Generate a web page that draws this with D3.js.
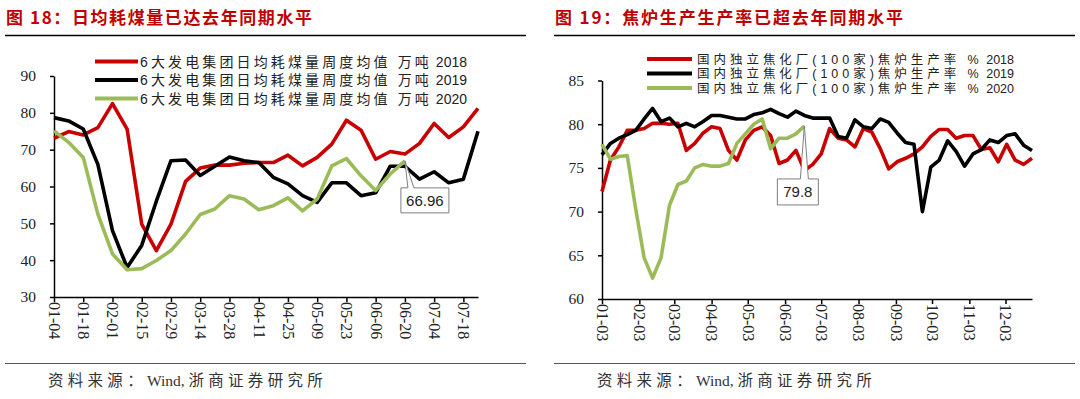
<!DOCTYPE html>
<html>
<head>
<meta charset="utf-8">
<script src="https://cdn.jsdelivr.net/npm/d3@7"></script>
<style>
  html, body { margin: 0; padding: 0; background: #fff; }
  svg { display: block; }
</style>
</head>
<body>
<div id="chart"></div>
<script>
// ---- data ----
const coalDates = ["01-04","01-11","01-18","01-25","02-01","02-08","02-15","02-22","02-29","03-07",
  "03-14","03-21","03-28","04-04","04-11","04-18","04-25","05-02","05-09","05-16",
  "05-23","05-30","06-06","06-13","06-20","06-27","07-04","07-11","07-18","07-25"];
const coalTicks = ["01-04","01-18","02-01","02-15","02-29","03-14","03-28","04-11","04-25",
  "05-09","05-23","06-06","06-20","07-04","07-18"];
const coalYTicks = [30, 40, 50, 60, 70, 80, 90];
const coal2018 = [73.1, 74.9, 74, 76, 82.5, 75.6, 49.8, 42.6, 49.8, 61.4, 65, 65.8, 65.8, 66.3, 66.5,
  66.5, 68.5, 65.6, 67.9, 71.5, 78, 75.3, 67.4, 69.5, 68.8, 71.7, 77.1, 73.3, 76.2, 81.2];
const coal2019 = [78.7, 77.8, 75.6, 66, 48, 38, 44, 56, 67, 67.2, 63, 65.5, 68, 67, 66.5,
  62.5, 60.7, 57.5, 55.7, 61, 61, 57.5, 58.3, 65.5, 65.5, 62, 64, 61, 62, 75];
const coal2020 = [75.1, 72, 67.9, 52.5, 41.7, 37.4, 37.7, 39.9, 42.6, 47.1, 52.4, 53.9, 57.5, 56.6, 53.7,
  54.8, 56.9, 53.4, 56.6, 65.6, 67.6, 62.9, 58.9, 63.4, 66.96];
const coalNames = ["6大发电集团日均耗煤量周度均值 万吨", "6大发电集团日均耗煤量周度均值 万吨",
  "6大发电集团日均耗煤量周度均值 万吨"];
const years = ["2018", "2019", "2020"];

const cokeDates = ["01-03","01-10","01-17","01-24","01-31","02-07","02-14","02-21","02-28","03-06",
  "03-13","03-20","03-27","04-03","04-10","04-17","04-24","05-01","05-08","05-15",
  "05-22","05-29","06-05","06-12","06-19","06-26","07-03","07-10","07-17","07-24",
  "07-31","08-07","08-14","08-21","08-28","09-04","09-11","09-18","09-25","10-02",
  "10-09","10-16","10-23","10-30","11-06","11-13","11-20","11-27","12-04","12-11",
  "12-18","12-25"];
const cokeTicks = ["01-03","02-03","03-03","04-03","05-03","06-03","07-03","08-03","09-03",
  "10-03","11-03","12-03"];
const cokeYTicks = [60, 65, 70, 75, 80, 85];
const coke2018 = [72.3, 75.9, 77.4, 79.3, 79.3, 79.5, 80.1, 80.1, 80, 80.1, 77, 77.8, 79, 79.7, 79.5,
  77, 75.9, 78.2, 79.3, 79.7, 78.7, 75.5, 75.9, 77, 74.7, 75.4, 76.6, 79.5, 78.4, 78.2,
  77.4, 79.5, 79.1, 77.2, 74.9, 75.7, 76.1, 76.6, 77.4, 78.6, 79.4, 79.4, 78.4, 78.7, 78.7,
  77.1, 77.3, 75.7, 77.7, 75.9, 75.4, 76.1];
const coke2019 = [76.5, 77.8, 78.4, 78.8, 79.3, 80.6, 81.8, 80.3, 80.7, 79.7, 80.1, 79.7, 80.3, 81, 81,
  80.8, 80.6, 80.6, 81.1, 81.3, 81.7, 81.2, 80.8, 81.5, 81, 80.7, 80.7, 80.7, 78.6, 78.4,
  80.5, 79.7, 79.5, 80.6, 80.2, 79, 77.9, 77.7, 70, 75.1, 75.9, 78.1, 76.9, 75.2, 76.6,
  77.1, 78.2, 77.9, 78.7, 78.9, 77.6, 77];
const coke2020 = [77.7, 76, 76.3, 76.4, 70.3, 64.7, 62.4, 64.7, 70.7, 73.1, 73.5, 75, 75.4, 75.2, 75.2,
  75.5, 77.8, 78.9, 80, 80.6, 77.2, 78.4, 78.4, 78.9, 79.8];
const cokeNames = ["国内独立焦化厂(100家)焦炉生产率 %", "国内独立焦化厂(100家)焦炉生产率 %",
  "国内独立焦化厂(100家)焦炉生产率 %"];

const colors = ["#c80000", "#000000", "#9bbb59"];

const SERIF = "'Liberation Serif','Times New Roman','Noto Sans CJK SC',serif";
const CJK = "'Noto Sans CJK SC','Noto Sans',sans-serif";
const SANS = "'Liberation Sans',Arial,'Noto Sans CJK SC',sans-serif";

const parse = d3.timeParse("%Y-%m-%d");
const toDate = s => parse("2020-" + s);

const svg = d3.select("#chart").append("svg")
  .attr("width", 1080)
  .attr("height", 399)
  .attr("viewBox", "0 0 1080 399");

// text made of tspans; the "spaced" parts get extra letter-spacing so the whole fits `target`
function spacedText(sel, parts, target, x, y, size, fill) {
  const t = sel.append("text")
    .attr("x", x).attr("y", y)
    .attr("font-size", size).attr("fill", fill);
  const spans = parts.map(p => t.append("tspan")
    .attr("font-family", p.font || SANS)
    .text(p.text));
  const natural = t.node().getComputedTextLength();
  const n = d3.sum(parts, p => p.spaced ? p.text.length : 0);
  const ls = Math.max(0, (target - natural) / n);
  spans.forEach((s, i) => { if (parts[i].spaced) s.attr("letter-spacing", ls); });
  return t;
}

function drawPanel(cfg) {
  const g = svg.append("g");

  // title + rules
  g.append("text")
    .attr("x", cfg.titleX).attr("y", 24)
    .attr("textLength", cfg.titleLen).attr("lengthAdjust", "spacing")
    .attr("font-family", CJK).attr("font-weight", 700).attr("font-size", 17)
    .attr("fill", "#c00000")
    .text(cfg.title);
  g.append("line").attr("x1", cfg.ruleX0).attr("x2", cfg.ruleX1).attr("y1", 35.5).attr("y2", 35.5)
    .attr("stroke", "#000").attr("stroke-width", 1.3);
  g.append("line").attr("x1", cfg.ruleX0).attr("x2", cfg.ruleX1).attr("y1", 363.5).attr("y2", 363.5)
    .attr("stroke", "#555").attr("stroke-width", 1);
  spacedText(g, [
    { text: "资料来源：", spaced: true, font: CJK },
    { text: "Wind,\u00a0", spaced: false, font: SERIF },
    { text: "浙商证券研究所", spaced: true, font: CJK }
  ], 279, cfg.sourceX, 386, 15.5, "#333");

  const dates = cfg.dates.map(toDate);
  const x = d3.scaleTime().domain([dates[0], dates[dates.length - 1]]).range(cfg.xRange);
  const y = d3.scaleLinear().domain(cfg.yDomain).range(cfg.yRange);

  // axes
  const yAxis = g.append("g")
    .attr("transform", `translate(${cfg.xRange[0]},0)`)
    .call(d3.axisLeft(y).tickValues(cfg.yTicks).tickSize(4).tickPadding(14).tickSizeOuter(0));
  yAxis.selectAll("text").attr("font-family", SERIF).attr("font-size", 15.5).attr("fill", "#222");

  const xAxis = g.append("g")
    .attr("transform", `translate(0,${cfg.yRange[0]})`)
    .call(d3.axisBottom(x).tickValues(cfg.ticks.map(toDate))
      .tickFormat(d3.timeFormat("%m-%d")).tickSize(5).tickSizeOuter(0));
  xAxis.selectAll("text")
    .attr("transform", "rotate(90)")
    .attr("x", 5).attr("y", 0).attr("dy", "0.35em")
    .style("text-anchor", "start")
    .attr("font-family", SERIF).attr("font-size", 16).attr("fill", "#222");

  [yAxis, xAxis].forEach(a => {
    a.select(".domain").attr("stroke", "#000").attr("stroke-width", 1.5);
    a.selectAll(".tick line").attr("stroke", "#000").attr("stroke-width", 1.5);
  });

  // lines
  const line = d3.line().x((d, i) => x(dates[i])).y(d => y(d));
  cfg.series.forEach((s, k) => {
    g.append("path").datum(s)
      .attr("d", line)
      .attr("fill", "none")
      .attr("stroke", colors[k])
      .attr("stroke-width", 3.6)
      .attr("stroke-linejoin", "round");
  });

  // legend
  cfg.names.forEach((name, k) => {
    const ly = cfg.legendY[k];
    g.append("line")
      .attr("x1", cfg.legendX[0]).attr("x2", cfg.legendX[1])
      .attr("y1", ly).attr("y2", ly)
      .attr("stroke", colors[k]).attr("stroke-width", 4);
    spacedText(g, [
      { text: name, spaced: true, font: SANS },
      { text: " " + years[k], spaced: false, font: SANS }
    ], cfg.legendLen, cfg.legendX[2], ly + cfg.legendFont * 0.36, cfg.legendFont, "#222");
  });

  // callout on the last 2020 point
  const last = cfg.series[2].length - 1;
  const px = x(dates[last]), py = y(cfg.series[2][last]);
  const c = cfg.callout;
  const bx = px + c.dx, by = py + c.dy;
  g.append("path")
    .attr("d", `M${bx},${by} H${px + c.t0} L${px},${py} L${px + c.t1},${by} H${bx + c.w} V${by + c.h} H${bx} Z`)
    .attr("fill", "#fff").attr("stroke", "#7f7f7f").attr("stroke-width", 1);
  g.append("text")
    .attr("x", bx + c.w / 2).attr("y", by + c.h / 2 + 5.5)
    .attr("text-anchor", "middle")
    .attr("font-family", SANS).attr("font-size", 15).attr("fill", "#222")
    .text(cfg.series[2][last]);
}

drawPanel({
  title: "图 18：日均耗煤量已达去年同期水平",
  titleX: 6, titleLen: 306,
  ruleX0: 5, ruleX1: 526, sourceX: 48,
  dates: coalDates, ticks: coalTicks, yTicks: coalYTicks,
  xRange: [54, 478], yDomain: [30, 90], yRange: [297, 76],
  series: [coal2018, coal2019, coal2020], names: coalNames,
  legendX: [95, 138, 140], legendY: [61.5, 80, 98.5], legendLen: 327, legendFont: 14,
  callout: { dx: -4, dy: 27, w: 48, h: 25, t0: 3, t1: 9 }
});

drawPanel({
  title: "图 19：焦炉生产生产率已超去年同期水平",
  titleX: 555, titleLen: 348,
  ruleX0: 554, ruleX1: 1075, sourceX: 597,
  dates: cokeDates, ticks: cokeTicks, yTicks: cokeYTicks,
  xRange: [602, 1032], yDomain: [60, 85], yRange: [299, 80.5],
  series: [coke2018, coke2019, coke2020], names: cokeNames,
  legendX: [647, 692, 697], legendY: [59, 73.5, 88], legendLen: 317, legendFont: 12.5,
  callout: { dx: -27, dy: 53, w: 41, h: 26, t0: -4, t1: 4 }
});
</script>
</body>
</html>
